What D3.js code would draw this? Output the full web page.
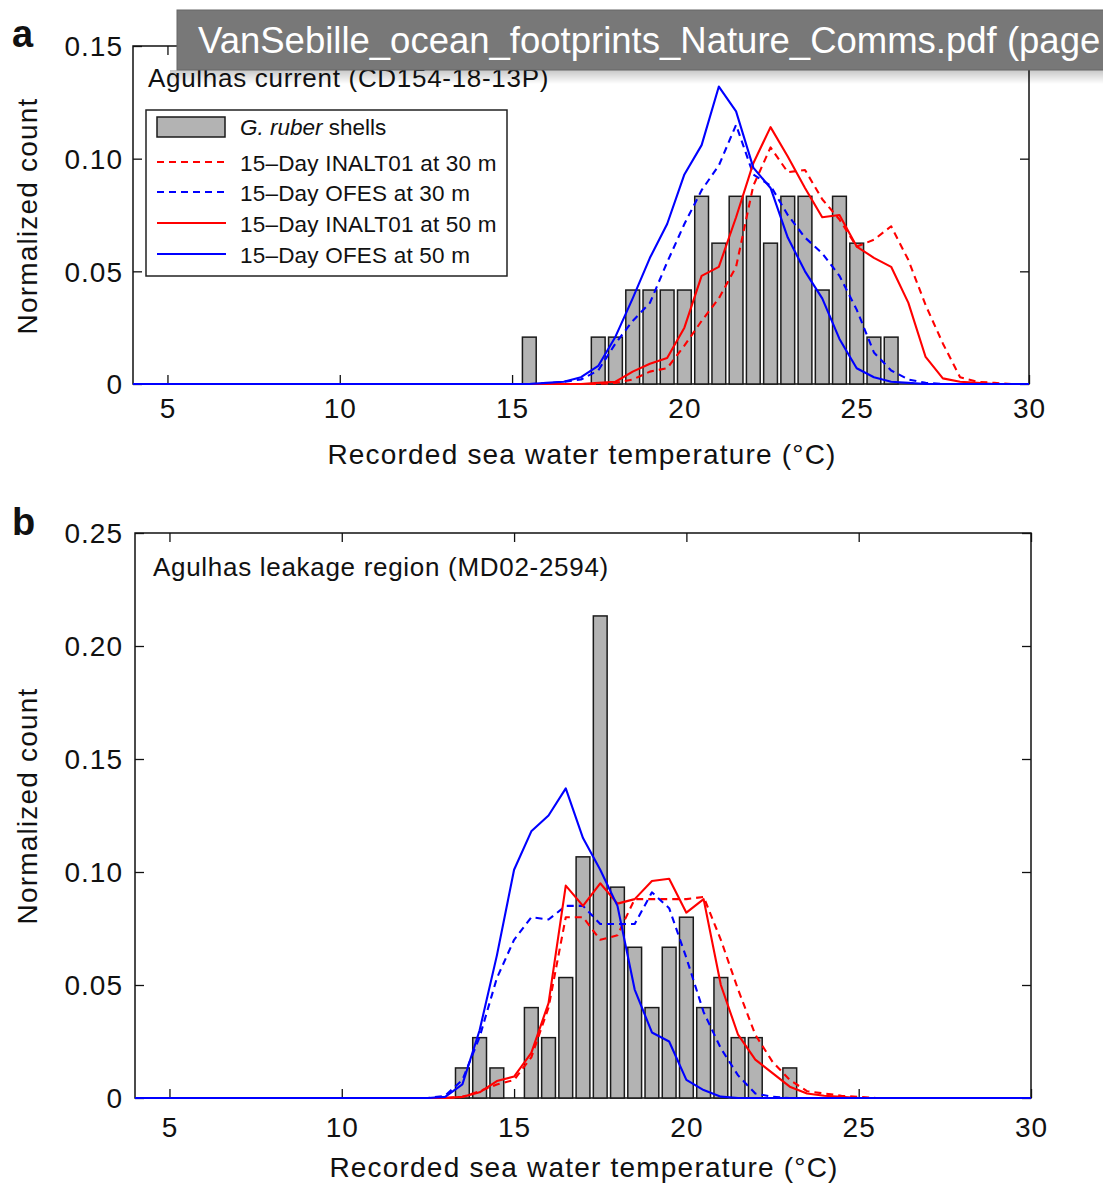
<!DOCTYPE html>
<html>
<head>
<meta charset="utf-8">
<script src="https://cdn.jsdelivr.net/npm/d3@7"></script>
<style>
  body { margin: 0; background: #fff; }
  svg text { font-family: "Liberation Sans", Arial, Helvetica, sans-serif; fill: #111; }
</style>
</head>
<body>
<svg id="chart"></svg>
<script>
// ---- data ----
var tickTemps = [5, 10, 15, 20, 25, 30];
var yTicksA = [0, 0.05, 0.10, 0.15];
var yTicksB = [0, 0.05, 0.10, 0.15, 0.20, 0.25];

// G. ruber shell histograms (bin centres, normalized count)
var shellTempA = [15.5, 17.5, 18, 18.5, 19, 19.5, 20, 20.5, 21, 21.5, 22, 22.5, 23, 23.5, 24, 24.5, 25, 25.5, 26];
var shellFracA = [0.0208, 0.0208, 0.0208, 0.0417, 0.0417, 0.0417, 0.0417, 0.0833, 0.0625, 0.0833, 0.0833, 0.0625, 0.0833, 0.0833, 0.0417, 0.0833, 0.0625, 0.0208, 0.0208];
var shellTempB = [13.5, 14, 14.5, 15.5, 16, 16.5, 17, 17.5, 18, 18.5, 19, 19.5, 20, 20.5, 21, 21.5, 22, 23];
var shellFracB = [0.0133, 0.0267, 0.0133, 0.04, 0.0267, 0.0533, 0.1067, 0.2133, 0.0933, 0.0667, 0.04, 0.0667, 0.08, 0.04, 0.0533, 0.0267, 0.0267, 0.0133];

// model temperature grid shared by all the 15-day curves
var modelTemps = [4, 12, 12.5, 13, 13.5, 14, 14.5, 15, 15.5, 16, 16.5, 17, 17.5, 18, 18.5, 19, 19.5, 20, 20.5, 21, 21.5,
                  22, 22.5, 23, 23.5, 24, 24.5, 25, 25.5, 26, 26.5, 27, 27.5, 28, 28.5, 29, 29.5, 30];

// panel a: Agulhas current
var inalt30A = [0, 0, 0, 0, 0, 0, 0, 0, 0, 0, 0, 0, 0, 0.0005, 0.002, 0.0055, 0.007, 0.017, 0.028, 0.038, 0.052,
                0.088, 0.105, 0.094, 0.095, 0.082, 0.073, 0.061, 0.064, 0.070, 0.055, 0.035, 0.018, 0.003, 0.001, 0.0005, 0, 0];
var ofes30A  = [0, 0, 0, 0, 0, 0, 0, 0, 0, 0.0003, 0.001, 0.002, 0.006, 0.018, 0.028, 0.036, 0.054, 0.071, 0.086, 0.097, 0.115,
                0.093, 0.088, 0.075, 0.065, 0.058, 0.048, 0.033, 0.014, 0.006, 0.002, 0.0005, 0, 0, 0, 0, 0, 0];
var inalt50A = [0, 0, 0, 0, 0, 0, 0, 0, 0, 0, 0, 0, 0.0005, 0.001, 0.0055, 0.009, 0.0115, 0.025, 0.048, 0.052, 0.074,
                0.098, 0.114, 0.101, 0.087, 0.074, 0.075, 0.061, 0.056, 0.052, 0.036, 0.012, 0.0025, 0.001, 0.0005, 0, 0, 0];
var ofes50A  = [0, 0, 0, 0, 0, 0, 0, 0, 0, 0.0005, 0.001, 0.003, 0.008, 0.021, 0.038, 0.056, 0.071, 0.093, 0.106, 0.132, 0.121,
                0.096, 0.087, 0.065, 0.050, 0.038, 0.020, 0.007, 0.003, 0.001, 0.0005, 0, 0, 0, 0, 0, 0, 0];

// panel b: Agulhas leakage region
var inalt30B = [0, 0, 0, 0, 0.0005, 0.003, 0.006, 0.008, 0.018, 0.040, 0.080, 0.080, 0.070, 0.072, 0.088, 0.088, 0.088, 0.088, 0.089, 0.070, 0.048,
                0.028, 0.016, 0.008, 0.003, 0.002, 0.001, 0.0005, 0, 0, 0, 0, 0, 0, 0, 0, 0, 0];
var ofes30B  = [0, 0, 0, 0.001, 0.008, 0.027, 0.053, 0.070, 0.080, 0.079, 0.085, 0.085, 0.077, 0.077, 0.077, 0.091, 0.084, 0.062, 0.038, 0.022, 0.010,
                0.002, 0.0005, 0, 0, 0, 0, 0, 0, 0, 0, 0, 0, 0, 0, 0, 0, 0];
var inalt50B = [0, 0, 0, 0, 0.0005, 0.0025, 0.0075, 0.0095, 0.020, 0.042, 0.094, 0.085, 0.095, 0.086, 0.088, 0.096, 0.097, 0.082, 0.088, 0.050, 0.028,
                0.017, 0.011, 0.005, 0.002, 0.001, 0.0005, 0, 0, 0, 0, 0, 0, 0, 0, 0, 0, 0];
var ofes50B  = [0, 0, 0, 0.0005, 0.006, 0.030, 0.063, 0.101, 0.118, 0.125, 0.137, 0.115, 0.101, 0.085, 0.048, 0.029, 0.025, 0.008, 0.0035, 0.0006, 0,
                0, 0, 0, 0, 0, 0, 0, 0, 0, 0, 0, 0, 0, 0, 0, 0, 0];

var legendLabels = ["15\u2013Day INALT01 at 30 m", "15\u2013Day OFES at 30 m", "15\u2013Day INALT01 at 50 m", "15\u2013Day OFES at 50 m"];
var seriesColors = ["#ff0000", "#0000ff", "#ff0000", "#0000ff"];
var seriesDash = ["7,5", "7,5", null, null];

// ---- svg ----
var w = 1103, h = 1186;
var svg = d3.select("#chart").attr("width", w).attr("height", h);
svg.append("rect").attr("width", w).attr("height", h).attr("fill", "#fff");

var FONT = 28;

function drawPanel(p) {
    var x = d3.scaleLinear().domain([4, 30]).range([p.left, p.right]);
    var y = d3.scaleLinear().domain([0, p.ymax]).range([p.bottom, p.top]);
    var g = svg.append("g");

    // box
    g.append("rect")
        .attr("x", p.left).attr("y", p.top)
        .attr("width", p.right - p.left).attr("height", p.bottom - p.top)
        .attr("fill", "#fff").attr("stroke", "#111").attr("stroke-width", 1.5);

    // ticks on all four sides, pointing in
    var fmtY = function(d) { return d === 0 ? "0" : d3.format(".2f")(d); };
    var axB = g.append("g").attr("transform", "translate(0," + p.bottom + ")")
        .call(d3.axisBottom(x).tickValues(tickTemps).tickSize(-9).tickPadding(p.xPad).tickFormat(d3.format("d")));
    var axT = g.append("g").attr("transform", "translate(0," + p.top + ")")
        .call(d3.axisTop(x).tickValues(tickTemps).tickSize(-9).tickFormat(""));
    var axL = g.append("g").attr("transform", "translate(" + p.left + ",0)")
        .call(d3.axisLeft(y).tickValues(p.yTicks).tickSize(-9).tickPadding(p.yPad).tickFormat(fmtY));
    var axR = g.append("g").attr("transform", "translate(" + p.right + ",0)")
        .call(d3.axisRight(y).tickValues(p.yTicks).tickSize(-9).tickFormat(""));
    [axB, axT, axL, axR].forEach(function(a) {
        a.select(".domain").remove();
        a.selectAll("line").attr("stroke", "#111").attr("stroke-width", 1.3);
        a.selectAll("text").attr("font-size", FONT).attr("letter-spacing", 1)
            .attr("font-family", "Liberation Sans, Arial, sans-serif").attr("fill", "#111");
    });
    axL.selectAll("text").attr("dy", "0.35em");

    // histogram bars
    var barW = (x(4.5) - x(4)) * 0.8;
    g.selectAll("rect.bar")
        .data(p.shellTemp.map(function(t, i) { return [t, p.shellFrac[i]]; }))
        .enter().append("rect")
        .attr("class", "bar")
        .attr("x", function(d) { return x(d[0]) - barW / 2; })
        .attr("y", function(d) { return y(d[1]); })
        .attr("width", barW)
        .attr("height", function(d) { return y(0) - y(d[1]); })
        .attr("fill", "#b3b3b3")
        .attr("stroke", "#1a1a1a")
        .attr("stroke-width", 1.5);

    // model curves
    var line = d3.line()
        .x(function(d) { return x(d[0]); })
        .y(function(d) { return y(d[1]); });
    p.series.forEach(function(vals, k) {
        g.append("path")
            .datum(modelTemps.map(function(t, i) { return [t, vals[i]]; }))
            .attr("d", line)
            .attr("fill", "none")
            .attr("stroke", seriesColors[k])
            .attr("stroke-width", 2.1)
            .attr("stroke-linejoin", "round")
            .attr("stroke-dasharray", seriesDash[k]);
    });

    // titles and labels
    g.append("text")
        .attr("x", p.titleX).attr("y", p.titleY)
        .attr("font-size", 26).attr("letter-spacing", 0.7)
        .text(p.title);

    g.append("text")
        .attr("x", (p.left + p.right) / 2 + 1).attr("y", p.xLabelY)
        .attr("text-anchor", "middle")
        .attr("font-size", FONT).attr("letter-spacing", 1.2)
        .text("Recorded sea water temperature (\u00b0C)");

    g.append("text")
        .attr("transform", "translate(37," + p.yLabelMid + ") rotate(-90)")
        .attr("text-anchor", "middle")
        .attr("font-size", FONT).attr("letter-spacing", 1.2)
        .text("Normalized count");

    g.append("text")
        .attr("x", 12).attr("y", p.letterY)
        .attr("font-size", 38).attr("font-weight", "bold")
        .text(p.letter);

    return { x: x, y: y, g: g };
}

var panelA = drawPanel({
    left: 133, right: 1029, top: 46, bottom: 384, ymax: 0.15, yTicks: yTicksA,
    xPad: 14, yPad: 10,
    shellTemp: shellTempA, shellFrac: shellFracA,
    series: [inalt30A, ofes30A, inalt50A, ofes50A],
    title: "Agulhas current (CD154-18-13P)", titleX: 148, titleY: 87,
    xLabelY: 464, yLabelMid: 216, letter: "a", letterY: 47
});

var panelB = drawPanel({
    left: 135, right: 1031, top: 533, bottom: 1098, ymax: 0.25, yTicks: yTicksB,
    xPad: 19, yPad: 12,
    shellTemp: shellTempB, shellFrac: shellFracB,
    series: [inalt30B, ofes30B, inalt50B, ofes50B],
    title: "Agulhas leakage region (MD02-2594)", titleX: 153, titleY: 576,
    xLabelY: 1177, yLabelMid: 806, letter: "b", letterY: 535
});

// ---- legend (panel a) ----
var leg = svg.append("g");
leg.append("rect")
    .attr("x", 146).attr("y", 110).attr("width", 361).attr("height", 166)
    .attr("fill", "#fff").attr("stroke", "#222").attr("stroke-width", 1.5);
leg.append("rect")
    .attr("x", 157).attr("y", 117).attr("width", 68).attr("height", 20)
    .attr("fill", "#b3b3b3").attr("stroke", "#1a1a1a").attr("stroke-width", 1.5);
var shellText = leg.append("text").attr("x", 240).attr("y", 135).attr("font-size", 22.5);
shellText.append("tspan").attr("font-style", "italic").text("G. ruber");
shellText.append("tspan").text(" shells");

var legY = [162, 192, 223, 254];
legendLabels.forEach(function(lbl, k) {
    leg.append("line")
        .attr("x1", 157).attr("x2", 226)
        .attr("y1", legY[k]).attr("y2", legY[k])
        .attr("stroke", seriesColors[k]).attr("stroke-width", 2)
        .attr("stroke-dasharray", seriesDash[k]);
    leg.append("text")
        .attr("x", 240).attr("y", legY[k] + 9)
        .attr("font-size", 22.5).attr("letter-spacing", 0.2)
        .text(lbl);
});

// ---- window title tooltip overlay ----
var defs = svg.append("defs");
var grad = defs.append("linearGradient").attr("id", "shadow").attr("x1", 0).attr("y1", 0).attr("x2", 0).attr("y2", 1);
grad.append("stop").attr("offset", "0%").attr("stop-color", "#000").attr("stop-opacity", 0.22);
grad.append("stop").attr("offset", "100%").attr("stop-color", "#000").attr("stop-opacity", 0);

svg.append("rect")
    .attr("x", 170).attr("y", 70).attr("width", 940).attr("height", 14)
    .attr("fill", "url(#shadow)");
svg.append("rect")
    .attr("x", 177).attr("y", 10).attr("width", 940).attr("height", 60)
    .attr("fill", "#787878").attr("stroke", "#666").attr("stroke-width", 1);
svg.append("text")
    .attr("x", 198).attr("y", 53)
    .attr("font-size", 36.5)
    .style("fill", "#fff")
    .text("VanSebille_ocean_footprints_Nature_Comms.pdf (page");
</script>
</body>
</html>
